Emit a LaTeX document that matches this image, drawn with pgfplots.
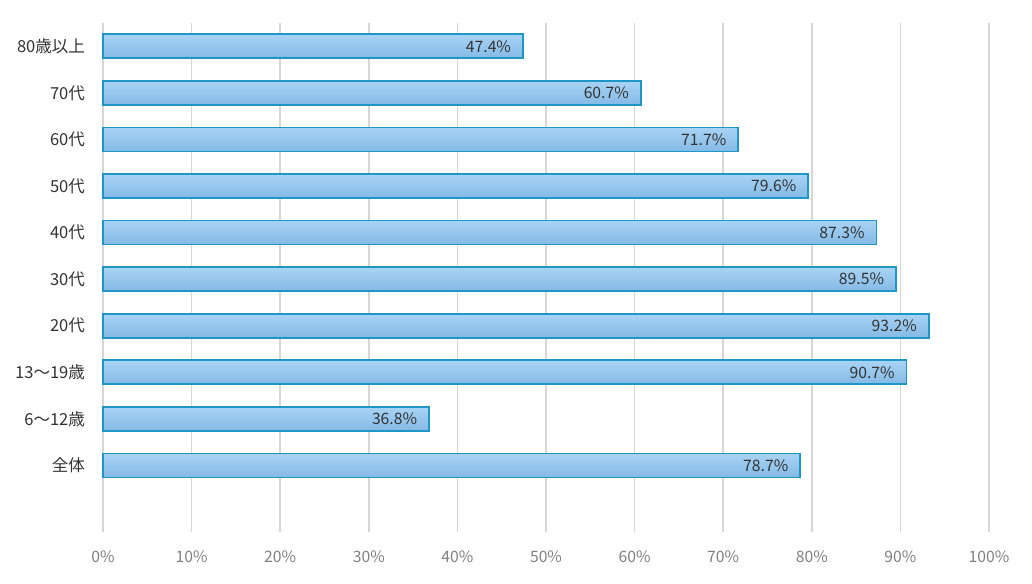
\documentclass[border=0pt]{standalone}
\usepackage{pgfplots}
\pgfplotsset{compat=1.18}
\usepackage{fontspec}
\newfontfamily\cjk{Noto Sans CJK JP}
\setmainfont{Noto Sans CJK JP}
\definecolor{barTop}{HTML}{A8D3F4}
\definecolor{barBot}{HTML}{84BAE6}
\definecolor{barEdge}{HTML}{1E96C8}
\definecolor{gridc}{HTML}{D6D6D6}
\definecolor{tickc}{HTML}{808080}
\definecolor{labc}{HTML}{333333}
\pgfplotsset{
  mybar/.style={xbar, bar width=0.515, bar shift=0pt, draw=barEdge, line width=1.3pt,
    top color=barTop, bottom color=barBot,
    point meta=x,
    nodes near coords={\pgfmathprintnumber[fixed,precision=1,fixed zerofill,assume math mode=true]{\pgfplotspointmeta}\%},
    every node near coord/.append style={anchor=east, xshift=-5pt, font=\cjk\fontsize{11.8}{13}\selectfont, text=labc}}
}
\begin{document}
\begin{tikzpicture}[x=0.75pt,y=0.75pt]
\useasboundingbox (0,0) rectangle (1032,584);
\begin{axis}[
  at={(103*0.75pt,52*0.75pt)}, anchor=south west,
  scale only axis, width=886*0.75pt, height=509*0.75pt,
  xmin=0, xmax=100, ymin=-0.43, ymax=10.5,
  axis line style={draw=none},
  xmajorgrids, grid style={gridc, line width=1.2pt},
  xtick={0,10,...,100},
  xtick pos=bottom, ytick pos=left,
  xticklabels={0\%,10\%,20\%,30\%,40\%,50\%,60\%,70\%,80\%,90\%,100\%},
  xticklabel style={font=\cjk\fontsize{11.8}{13}\selectfont, text=tickc, yshift=-10.5pt},
  ytick={1,...,10},
  yticklabels={全体,6〜12歳,13〜19歳,20代,30代,40代,50代,60代,70代,80歳以上},
  yticklabel style={font=\cjk\fontsize{12.4}{14}\selectfont, text=labc, xshift=-10pt},
  major tick length=0pt,
  tick style={draw=none},
  clip=false,
]
\addplot[mybar] coordinates {(78.7,1)};
\addplot[mybar] coordinates {(36.8,2)};
\addplot[mybar] coordinates {(90.7,3)};
\addplot[mybar] coordinates {(93.2,4)};
\addplot[mybar] coordinates {(89.5,5)};
\addplot[mybar] coordinates {(87.3,6)};
\addplot[mybar] coordinates {(79.6,7)};
\addplot[mybar] coordinates {(71.7,8)};
\addplot[mybar] coordinates {(60.7,9)};
\addplot[mybar] coordinates {(47.4,10)};
\end{axis}
\end{tikzpicture}
\end{document}
